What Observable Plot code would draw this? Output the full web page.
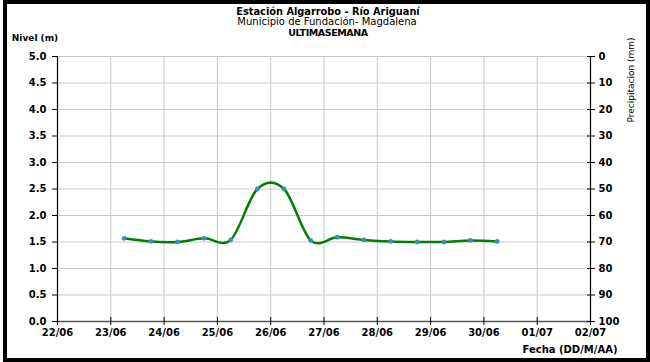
<!DOCTYPE html>
<html><head><meta charset="utf-8">
<script src="https://cdn.jsdelivr.net/npm/d3@7"></script>
<script src="https://cdn.jsdelivr.net/npm/@observablehq/plot@0.6"></script>
<style>
body{margin:0;background:#fff;}
#wrap{position:relative;width:650px;height:362px;overflow:hidden;font-family:"DejaVu Sans",sans-serif;background:#fff;}
#border{position:absolute;left:3px;top:0;width:647px;height:362px;box-sizing:border-box;border:4px solid #000;pointer-events:none}
.t{position:absolute;transform:translate(-50%,-50%);white-space:nowrap;font-size:9.5px;color:#000;line-height:1}
.b{font-weight:bold}
#chart svg text{font-weight:bold}
#chart{position:absolute;left:0;top:0}
</style></head><body>
<div id="wrap">
  <div id="chart"></div>
  <div class="t b" style="left:328px;top:11.5px;font-size:9.8px">Estación Algarrobo - Río Ariguaní</div>
  <div class="t" style="left:327px;top:22px;font-size:10px">Municipio de Fundación- Magdalena</div>
  <div class="t b" style="left:328px;top:32.5px;letter-spacing:-0.4px">ULTIMASEMANA</div>
  <div class="t b" style="left:35px;top:38px;font-size:9px">Nivel (m)</div>
  <div class="t" style="left:631px;top:80px;transform:translate(-50%,-50%) rotate(-90deg);font-size:9px">Precipitacion (mm)</div>
  <div class="t b" style="left:570px;top:350px;font-size:10px">Fecha (DD/M/AA)</div>
  <div id="border"></div>
</div>
<script>
// Data
const fechaHora = [
  "2023-06-23T06:00","2023-06-23T18:00","2023-06-24T06:00","2023-06-24T18:00",
  "2023-06-25T06:00","2023-06-25T18:00","2023-06-26T06:00","2023-06-26T18:00",
  "2023-06-27T06:00","2023-06-27T18:00","2023-06-28T06:00","2023-06-28T18:00",
  "2023-06-29T06:00","2023-06-29T18:00","2023-06-30T06:00"
];
const nivel = [1.57,1.51,1.50,1.57,1.54,2.50,2.50,1.53,1.59,1.54,1.51,1.50,1.50,1.53,1.51];
const fechasEje = ["2023-06-22","2023-06-23","2023-06-24","2023-06-25","2023-06-26","2023-06-27",
  "2023-06-28","2023-06-29","2023-06-30","2023-07-01","2023-07-02"];
const nivelTicks = [0,0.5,1,1.5,2,2.5,3,3.5,4,4.5,5];
const precipTicks = [0,10,20,30,40,50,60,70,80,90,100];

const parse = s => new Date(s + (s.length > 10 ? ":00Z" : "T00:00:00Z"));
const ejeX = fechasEje.map(parse);
const data = fechaHora.map((s, i) => ({fecha: parse(s), nivel: nivel[i]}));
const nivelMax = 5, precipMax = 100;
const precipPos = precipTicks.map(p => nivelMax - p * nivelMax / precipMax);

const chart = Plot.plot({
  width: 650, height: 362,
  marginLeft: 57, marginRight: 60, marginTop: 56, marginBottom: 41,
  style: {fontFamily: "'DejaVu Sans', sans-serif", fontSize: "10px", background: "transparent", color: "#000"},
  x: {type: "utc", domain: [ejeX[0], ejeX[ejeX.length - 1]]},
  y: {domain: [0, 5]},
  marks: [
    Plot.gridX(ejeX, {stroke: "#c8c8c8", strokeOpacity: 1}),
    Plot.gridY(nivelTicks, {stroke: "#c8c8c8", strokeOpacity: 1}),
    Plot.ruleX([ejeX[0], ejeX[ejeX.length - 1]], {stroke: "#000", strokeWidth: 1.2}),
    Plot.ruleY([0], {stroke: "#555", strokeWidth: 1.5}),
    Plot.axisY(nivelTicks, {anchor: "left", tickSize: 5, tickPadding: 6, tickFormat: d => d.toFixed(1), label: null, fill: "#000"}),
    Plot.axisY(precipPos, {anchor: "right", tickSize: 8, dx: -4, tickPadding: 4,
      tickFormat: d => String(Math.round((nivelMax - d) * precipMax / nivelMax)), label: null, fill: "#000"}),
    Plot.axisX(ejeX, {anchor: "bottom", tickSize: 8, dy: -4, tickPadding: 3,
      tickFormat: d3.utcFormat("%d/%m"), label: null, fill: "#000"}),
    Plot.line(data, {x: "fecha", y: "nivel", curve: "cardinal", stroke: "#008000", strokeWidth: 2.5}),
    Plot.dot(data, {x: "fecha", y: "nivel", r: 2.4, fill: "#3a8fb7", stroke: "none"})
  ]
});
document.getElementById("chart").appendChild(chart);
</script>
</body></html>
